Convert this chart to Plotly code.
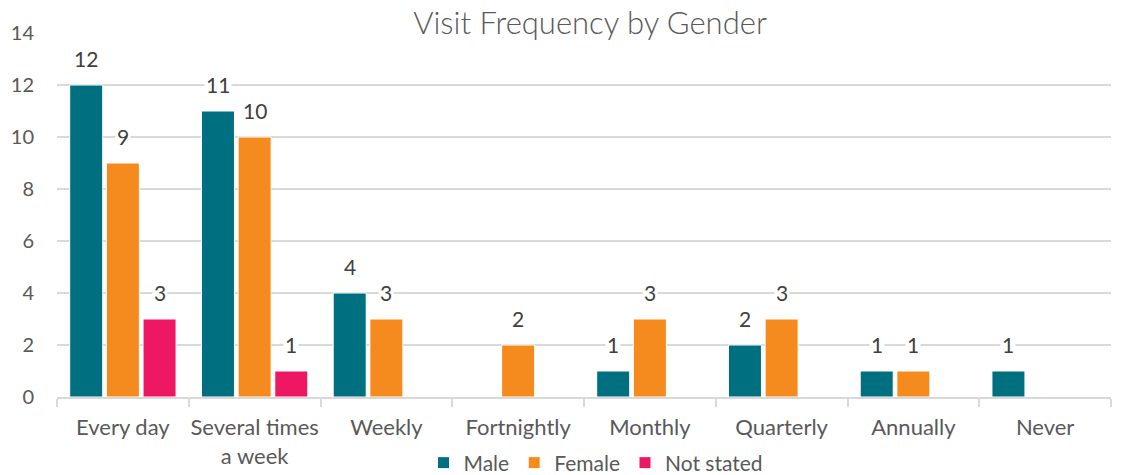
import plotly.graph_objects as go

categories = ["Every day", "Several times<br>a week", "Weekly", "Fortnightly",
              "Monthly", "Quarterly", "Annually", "Never"]
male = [12, 11, 4, 0, 1, 2, 1, 1]
female = [9, 10, 3, 2, 3, 3, 1, 0]
not_stated = [3, 1, 0, 0, 0, 0, 0, 0]
series_names = ["Male", "Female", "Not stated"]
series_values = [male, female, not_stated]
colors = ["#007080", "#F58B1F", "#EE1763"]

FONT = "Lato"
GREY = "#595959"
OFF = 8  # default page body margin
W, H = 1123 - OFF, 475 - OFF
ML, MR, MT, MB = 57 - OFF, 12, 33 - OFF, 78
BARGAP, GROUPGAP = 0.165, 0.1

fig = go.Figure()
for name, vals, col in zip(series_names, series_values, colors):
    fig.add_trace(go.Bar(
        x=categories, y=[v if v else None for v in vals], name=name,
        marker=dict(color=col, line=dict(color="white", width=1)),
    ))

# data labels above bars
plot_w = W - ML - MR
plot_h = H - MT - MB
cat_w = plot_w / len(categories)
slot = cat_w * (1 - BARGAP) / len(series_names)
annotations = []
for i, vals in enumerate(series_values):
    shift = (i - (len(series_names) - 1) / 2) * slot
    for c, v in zip(categories, vals):
        if v:
            annotations.append(dict(
                x=c, y=v, text=str(v), showarrow=False, xshift=shift, yshift=27,
                yanchor="middle", bgcolor="white", borderpad=1,
                font=dict(family=FONT, size=21, color="#404040")))

fig.update_layout(
    width=W, height=H,
    margin=dict(l=ML, r=MR, t=MT, b=MB, autoexpand=False),
    paper_bgcolor="white", plot_bgcolor="white",
    barmode="group", bargap=BARGAP, bargroupgap=GROUPGAP,
    title=dict(text="Visit Frequency by Gender", x=(590 - OFF) / W, xanchor="center",
               y=1, yanchor="top", pad=dict(t=4),
               font=dict(family=FONT, size=31, color=GREY, weight=300)),
    font=dict(family=FONT, size=21, color=GREY),
    legend=dict(orientation="h", x=(596 - 57) / plot_w, xanchor="center",
                y=-(463 - 397) / plot_h, yanchor="middle",
                font=dict(family=FONT, size=21, color=GREY), itemwidth=30,
                traceorder="normal"),
    annotations=annotations,
    xaxis=dict(showline=True, linecolor="#D9D9D9", linewidth=1.5, automargin=False,
               tickangle=0, ticklabelstandoff=10,
               ticks="outside", tickson="boundaries", ticklen=8, tickcolor="#D9D9D9",
               tickwidth=1.5, tickfont=dict(family=FONT, size=22, color=GREY)),
    yaxis=dict(range=[0, 14], dtick=2, showgrid=True, gridcolor="#D9D9D9", gridwidth=1.5,
               zeroline=False, ticks="", ticklabelstandoff=22, automargin=False,
               tickfont=dict(family=FONT, size=20, color=GREY)),
)
fig.write_html("out.html")
